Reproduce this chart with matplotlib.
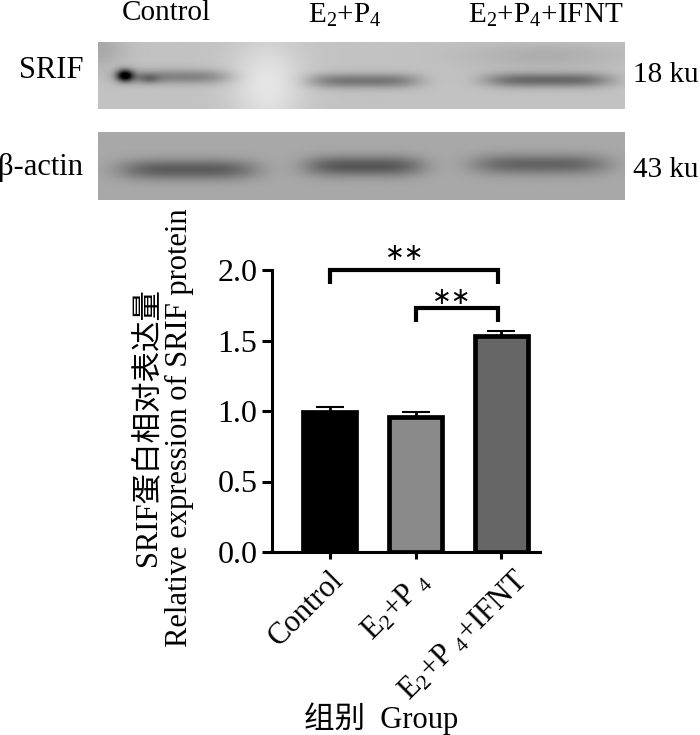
import numpy as np
import matplotlib
matplotlib.use("Agg")
from matplotlib import pyplot as plt
from matplotlib.transforms import ScaledTranslation

plt.rcParams['font.family'] = ['Liberation Serif', 'Noto Sans CJK SC']
plt.rcParams['mathtext.fontset'] = 'custom'
plt.rcParams['mathtext.rm'] = 'Liberation Serif'
plt.rcParams['mathtext.default'] = 'regular'

W, H = 700, 735

groups = ['Control', r'E$_2$+P$_{\ 4}$', r'E$_2$+P$_{\ 4}$+IFNT']
blot_groups = ['Control', r'E$_2$+P$_4$', r'E$_2$+P$_4$+IFNT']
values = [0.995, 0.955, 1.53]
errors = [0.035, 0.04, 0.037]
colors = ['#000000', '#8a8a8a', '#666666']
y_ticks = [0.0, 0.5, 1.0, 1.5, 2.0]

# blot bands: centre, half width (fraction of panel), height, darkness
srif_bands = [(0.145, 0.105, 0.52, 0.25), (0.505, 0.105, 0.58, 0.30), (0.855, 0.12, 0.57, 0.35)]
actin_bands = [(0.17, 0.13, 0.56, 0.30), (0.505, 0.112, 0.51, 0.32), (0.84, 0.128, 0.485, 0.27)]


def px_axes(fig, x0, y0, x1, y1):
    return fig.add_axes([x0 / W, 1 - y1 / H, (x1 - x0) / W, (y1 - y0) / H])


def blot(ax, bands, base, thick, spots=()):
    xx, yy = np.meshgrid(np.linspace(0, 1, 400), np.linspace(0, 1, 80))
    img = np.full(xx.shape, base)
    for cx, hw, cy, dark in bands:
        prof = np.exp(-((xx - cx) / hw) ** 4) * np.exp(-((yy - cy) / thick) ** 2)
        img = img - dark * prof
    for cx, cy, rx, ry, amount in spots:
        img = img + amount * np.exp(-((xx - cx) / rx) ** 2 - ((yy - cy) / ry) ** 2)
    ax.imshow(img, cmap='gray', vmin=0, vmax=1, aspect='auto', extent=(0, 1, 1, 0))
    ax.axis('off')


fig = plt.figure(figsize=(W / 100, H / 100), dpi=100, facecolor='white')

ax1 = px_axes(fig, 98, 42, 625, 109)
blot(ax1, srif_bands, 0.76, 0.11, spots=[(0.05, 0.5, 0.016, 0.09, -0.75), (0.095, 0.55, 0.02, 0.07, -0.15),
                                         (0.32, 0.65, 0.07, 0.7, 0.14), (0.85, 0.2, 0.15, 0.2, -0.08),
                                         (0.0, 0.1, 0.05, 0.3, -0.1)])
ax2 = px_axes(fig, 98, 132, 625, 200)
blot(ax2, actin_bands, 0.66, 0.15)

fig.text(166 / W, 1 - 13 / H, blot_groups[0], fontsize=21, ha='center', va='center')
fig.text(345 / W, 1 - 15 / H, blot_groups[1], fontsize=21, ha='center', va='center')
fig.text(546 / W, 1 - 15 / H, blot_groups[2], fontsize=21, ha='center', va='center')
fig.text(51 / W, 1 - 70 / H, 'SRIF', fontsize=22, ha='center', va='center')
fig.text(41 / W, 1 - 167 / H, 'β-actin', fontsize=22, ha='center', va='center')
fig.text(666 / W, 1 - 75 / H, '18 ku', fontsize=21, ha='center', va='center')
fig.text(666 / W, 1 - 170 / H, '43 ku', fontsize=21, ha='center', va='center')

ax = px_axes(fig, 272, 270, 540, 552)
x = np.arange(len(groups))
ax.bar(x, values, width=0.62, color=colors, edgecolor='black', linewidth=3.4, zorder=2)
ax.errorbar(x, values, yerr=[[0, 0, 0], errors], fmt='none', ecolor='black', elinewidth=2,
            capsize=10, capthick=1.5, zorder=1)
ax.set_xlim(-0.669, 2.448)
ax.set_ylim(0, 2)
ax.set_yticks(y_ticks)
ax.set_yticklabels([f'{t:.1f}' for t in y_ticks], fontsize=23)
ax.set_xticks(x)
ax.set_xticklabels(groups, fontsize=22, rotation=45, ha='right', rotation_mode='anchor')
ax.tick_params(axis='y', width=2.2, length=7.5, pad=3)
ax.tick_params(axis='x', width=2.2, length=5, pad=5)
for side in ['top', 'right']:
    ax.spines[side].set_visible(False)
for side in ['left', 'bottom']:
    ax.spines[side].set_linewidth(2.2)

# third label sits further right in the original
lab = ax.get_xticklabels()[2]
lab.set_transform(lab.get_transform() + ScaledTranslation(0.12, 0, fig.dpi_scale_trans))

# significance brackets
ax.plot([0, 0, 1.96, 1.96], [1.90, 2.0, 2.0, 1.90], color='black', lw=3, clip_on=False,
        solid_joinstyle='miter', solid_capstyle='butt')
ax.plot([1, 1, 1.96, 1.96], [1.63, 1.73, 1.73, 1.63], color='black', lw=3, clip_on=False,
        solid_joinstyle='miter', solid_capstyle='butt')
ax.text(0.88, 2.12, '∗∗', fontsize=17, ha='center', va='center', family='DejaVu Sans')
ax.text(1.42, 1.805, '∗∗', fontsize=17, ha='center', va='center', family='DejaVu Sans')

fig.text(148 / W, 1 - 427 / H, 'SRIF蛋白相对表达量', fontsize=22, rotation=90, ha='center', va='center')
fig.text(179 / W, 1 - 428 / H, 'Relative expression of SRIF protein', fontsize=22, rotation=90,
         ha='center', va='center')
fig.text(381 / W, 1 - 719 / H, '组别  Group', fontsize=22, ha='center', va='center')

fig.savefig('out.png', dpi=100)
